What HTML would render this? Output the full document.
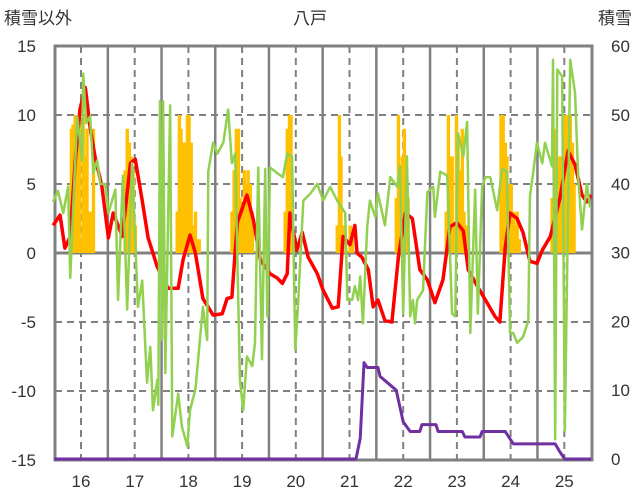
<!DOCTYPE html>
<html><head><meta charset="utf-8"><style>
body{margin:0;background:#fff;width:636px;height:501px;overflow:hidden}
svg{display:block;font-family:"Liberation Sans","Noto Sans CJK JP",sans-serif}
</style></head><body>
<svg id="chart" width="636" height="501">
<text x="4" y="24" font-size="17" fill="#333">積雪以外</text>
<text x="310" y="24" font-size="17" fill="#333" text-anchor="middle">八戸</text>
<text x="632" y="24" font-size="17" fill="#333" text-anchor="end">積雪</text>
<g id="grid"></g><g id="bars"></g><g id="lines"></g><g id="axes"></g>
</svg>
<script>
const dayTicks=[16,17,18,19,20,21,22,23,24,25];
const leftTicks=[15,10,5,0,-5,-10,-15];
const rightTicks=[60,50,40,30,20,10,0];
const barT=[15.82,15.85,15.89,15.93,15.97,16.00,16.04,16.08,16.11,16.15,16.19,16.23,16.82,16.86,16.90,16.93,16.97,17.01,17.79,17.83,17.86,17.90,17.94,17.98,18.01,18.05,18.09,18.13,18.16,18.20,18.81,18.85,18.89,18.93,18.96,19.00,19.04,19.08,19.11,19.15,19.19,19.80,19.84,19.88,19.91,20.77,20.81,20.84,20.88,21.01,21.05,21.87,21.91,21.94,21.98,22.02,22.05,22.09,22.80,22.84,22.87,22.91,22.95,22.99,23.02,23.06,23.10,23.13,23.17,23.82,23.86,23.90,23.93,23.97,24.01,24.05,24.08,24.12,24.16,24.77,24.81,24.85,24.88,24.92,24.96,25.00,25.03,25.07,25.11,25.15,25.18];
const barV=[9,9.3,10,7,9.6,1,10,7,9,3,3,9,6,9,8,7,6,2,3,10,9,8,8,10,10,8,2,3,1,1,3,6,9,9,4,3,6,5,6,5,3,3,9,10,10,2,10,7,2,2,1,4,10,4,7,9,7,4,3,10,7,7,2,10,8,6,9,3,2,10,10,8,7,5,5,3,2,3,1,4,9,8,7,7,6,10,10,10,10,8,5];
const greenT=[15.48,15.57,15.67,15.76,15.80,15.85,15.93,16.02,16.04,16.10,16.17,16.23,16.30,16.36,16.45,16.51,16.64,16.69,16.78,16.86,16.95,17.01,17.06,17.14,17.23,17.29,17.34,17.42,17.44,17.47,17.51,17.53,17.57,17.66,17.70,17.81,17.88,17.98,18.03,18.13,18.27,18.35,18.37,18.46,18.54,18.65,18.74,18.81,18.87,18.96,19.02,19.09,19.19,19.24,19.30,19.37,19.43,19.47,19.52,19.65,19.76,19.84,19.93,19.99,20.04,20.14,20.27,20.40,20.51,20.64,20.77,20.92,20.96,21.05,21.10,21.16,21.20,21.25,21.33,21.38,21.48,21.53,21.66,21.76,21.89,21.94,22.00,22.07,22.13,22.18,22.22,22.26,22.37,22.45,22.56,22.59,22.69,22.82,22.91,22.97,23.02,23.12,23.19,23.25,23.34,23.39,23.47,23.53,23.62,23.75,23.84,23.93,23.99,24.05,24.12,24.23,24.33,24.36,24.42,24.49,24.59,24.64,24.77,24.79,24.83,24.87,24.96,25.01,25.11,25.20,25.26,25.33,25.42,25.48];
const greenV=[3.7,4.5,2.9,4.8,-1.8,2.9,9.9,6.7,13,9.4,9.9,5.8,6.7,5.0,5.0,2.9,4.6,-3.4,5.6,-4.1,6.5,0.9,-3.9,-2,-9.4,-6.8,-11.4,-9.2,-11,11,-6.3,11,-8.7,10.7,-13.3,-10.2,-12.6,-14,-11.4,-9.9,-3.9,-6.3,5.9,8,7.2,8,10.4,6.5,7.2,-9.2,-11.4,-7.5,-8.2,-6.5,6.2,-7.7,6.1,-4.6,6.2,5.8,5.5,7.2,7.0,-7,-3.9,3.8,4.3,5.0,3.8,4.8,3.8,2.9,-3.4,-3.4,-2.4,-3.4,-1.7,-5.1,1.9,3.8,2.6,4.3,2.0,5.5,4.8,6.3,-4.4,7.0,-4.6,-3.4,-5.1,-3.4,-2.7,4.4,4.8,2.6,5.9,5.6,-4.4,-4.6,8.7,7.0,9.5,-5.8,4.6,-4.4,4.8,5.5,5.5,3.1,6.1,5.9,-5.8,-5.8,-6.5,-6.1,-4.9,4.1,5.8,8.0,6.5,8.0,6.3,14,-13.5,13.3,12.8,-12.9,14,11.6,5.4,1.7,5.0,3.3];
const redT=[15.48,15.61,15.70,15.80,15.89,15.98,16.08,16.17,16.26,16.39,16.51,16.60,16.77,16.92,17.01,17.14,17.25,17.42,17.62,17.81,17.90,18.03,18.13,18.27,18.46,18.63,18.72,18.81,18.91,19.09,19.21,19.34,19.52,19.65,19.75,19.84,19.89,20.02,20.12,20.23,20.40,20.51,20.68,20.79,20.88,21.01,21.10,21.14,21.23,21.35,21.44,21.53,21.66,21.79,21.91,22.04,22.17,22.31,22.45,22.59,22.74,22.87,23.00,23.12,23.21,23.38,23.53,23.71,23.80,23.90,23.99,24.12,24.23,24.36,24.49,24.59,24.74,24.92,25.07,25.20,25.33,25.42,25.50];
const redV=[2.0,2.75,0.35,1.2,6.5,10.4,12,9.1,7,4.8,1.1,2.9,1.2,6.5,6.8,3.8,1.1,-1.0,-2.55,-2.55,-0.5,1.3,0,-3.3,-4.5,-4.4,-3.3,-3.2,2.2,4.2,2.4,-0.5,-1.5,-1.8,-2.2,-1.5,2.9,0.2,1.5,-0.3,-1.5,-2.7,-4.0,-3.9,1.2,0.6,2.0,0,-0.3,-1.2,-3.9,-3.4,-4.9,-5.0,-0.3,2.9,2.5,-1.2,-1.95,-3.6,-1.95,1.9,2.2,1.6,-1.2,-2.4,-3.4,-4.6,-5.0,0.4,2.9,2.5,1.5,-0.6,-0.75,0.2,1.2,4.0,7.4,6.4,4.2,3.7,4.2];
const snowT=[15.5,21.12,21.20,21.27,21.33,21.53,21.57,21.72,21.87,22.00,22.13,22.31,22.35,22.61,22.65,23.10,23.15,23.43,23.47,23.90,24.05,24.83,24.92,25.01,25.5];
const snowV=[0,0,3,14,13.3,13.3,12,11,10,5.4,4,4,5,5,4,4,3.2,3.2,4,4,2.2,2.2,1,0,0];

const L=55,R=592,T=46,B=460;
const X=d=>81+(d-16)*53.7;
const Y=v=>253-v*13.8;
const Y2=v=>459-v*6.88;
const ns="http://www.w3.org/2000/svg";
function mk(tag,attrs,parent){const e=document.createElementNS(ns,tag);for(const k in attrs)e.setAttribute(k,attrs[k]);document.getElementById(parent).appendChild(e);return e;}
// grid
leftTicks.forEach(v=>{if(v===15||v===-15)return;
 const g=mk('line',{x1:L,x2:R,y1:Y(v),y2:Y(v),stroke:'#808080','stroke-width':v===0?3:2,'stroke-dasharray':v===0?'none':'7,5'},'grid');
 
 });
dayTicks.forEach(d=>{
 const g=mk('line',{x1:X(d),x2:X(d),y1:T,y2:B,stroke:'#808080','stroke-width':2,'stroke-dasharray':'7,5'},'grid');
 
 
 if(d<25){const s=mk('line',{x1:X(d+0.5),x2:X(d+0.5),y1:T,y2:B,stroke:'#808080','stroke-width':2.5},'grid');
 
 }
});
const f=mk('rect',{x:L,y:T,width:R-L,height:B-T,fill:'none',stroke:'#808080','stroke-width':3},'grid');


// bars
barT.forEach((t,i)=>{
 const b=mk('rect',{x:X(t)-1.6,y:Y(barV[i]),width:3.4,height:Y(0)-Y(barV[i]),fill:'#FFC000'},'bars');
 
 });
function line(ts,vs,yf,color,w,name){
 const p=mk('polyline',{points:ts.map((t,i)=>X(t)+','+yf(vs[i])).join(' '),fill:'none',stroke:color,'stroke-width':w,'stroke-linejoin':'round'},'lines');
 
 }
line(redT,redV,Y,'#FF0000',3.5,'temperature-line');
line(greenT,greenV,Y,'#92D050',2.5,'wind-line');
line(snowT,snowV,Y2,'#7030A0',3,'snow-depth-line');
leftTicks.forEach(v=>{const t=mk('text',{x:36,y:Y(v)+6,'font-size':17,fill:'#333','text-anchor':'end'},'axes');t.textContent=v;
 
 });
rightTicks.forEach(v=>{const t=mk('text',{x:611,y:Y2(v)+6,'font-size':17,fill:'#333','text-anchor':'start'},'axes');t.textContent=v;
 
 });
dayTicks.forEach(d=>{const t=mk('text',{x:X(d),y:487,'font-size':17,fill:'#333','text-anchor':'middle'},'axes');t.textContent=d;
 
 });
</script>
</body></html>
